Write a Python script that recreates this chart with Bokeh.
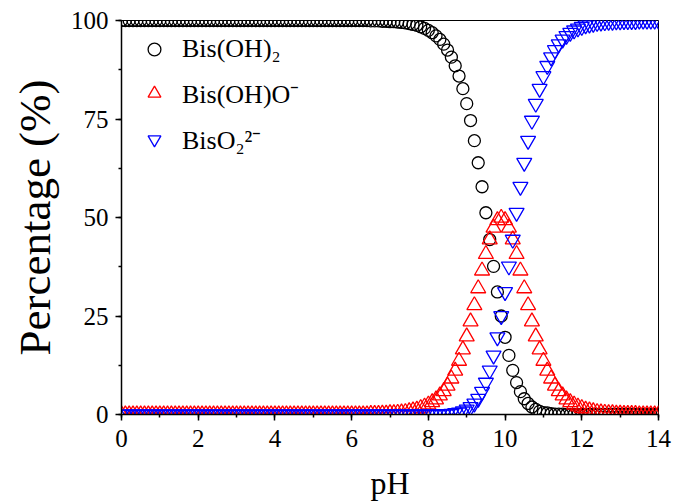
from bokeh.plotting import figure
from bokeh.models import Range1d, SingleIntervalTicker, Legend, LegendItem
from bokeh.embed import file_html
from bokeh.resources import INLINE

# pH grid (x values)
ph = [
    0.0, 0.1, 0.2, 0.3, 0.4, 0.5, 0.6, 0.7, 0.8, 0.9,
    1.0, 1.1, 1.2, 1.3, 1.4, 1.5, 1.6, 1.7, 1.8, 1.9,
    2.0, 2.1, 2.2, 2.3, 2.4, 2.5, 2.6, 2.7, 2.8, 2.9,
    3.0, 3.1, 3.2, 3.3, 3.4, 3.5, 3.6, 3.7, 3.8, 3.9,
    4.0, 4.1, 4.2, 4.3, 4.4, 4.5, 4.6, 4.7, 4.8, 4.9,
    5.0, 5.1, 5.2, 5.3, 5.4, 5.5, 5.6, 5.7, 5.8, 5.9,
    6.0, 6.1, 6.2, 6.3, 6.4, 6.5, 6.6, 6.7, 6.8, 6.9,
    7.0, 7.1, 7.2, 7.3, 7.4, 7.5, 7.6, 7.7, 7.8, 7.9,
    8.0, 8.1, 8.2, 8.3, 8.4, 8.5, 8.6, 8.7, 8.8, 8.9,
    9.0, 9.1, 9.2, 9.3, 9.4, 9.5, 9.6, 9.7, 9.8, 9.9,
    10.0, 10.1, 10.2, 10.3, 10.4, 10.5, 10.6, 10.7, 10.8, 10.9,
    11.0, 11.1, 11.2, 11.3, 11.4, 11.5, 11.6, 11.7, 11.8, 11.9,
    12.0, 12.1, 12.2, 12.3, 12.4, 12.5, 12.6, 12.7, 12.8, 12.9,
    13.0, 13.1, 13.2, 13.3, 13.4, 13.5, 13.6, 13.7, 13.8, 13.9,
    14.0,
]

# Bis(OH)2 percentage
bis_oh2 = [
    100.0, 100.0, 100.0, 100.0, 100.0, 100.0, 100.0, 100.0, 100.0, 100.0,
    100.0, 100.0, 100.0, 100.0, 100.0, 100.0, 100.0, 100.0, 100.0, 100.0,
    100.0, 100.0, 100.0, 100.0, 100.0, 100.0, 100.0, 100.0, 100.0, 100.0,
    100.0, 100.0, 100.0, 100.0, 100.0, 100.0, 100.0, 100.0, 100.0, 100.0,
    100.0, 100.0, 100.0, 100.0, 100.0, 100.0, 100.0, 100.0, 100.0, 100.0,
    100.0, 100.0, 100.0, 100.0, 100.0, 100.0, 100.0, 100.0, 100.0, 100.0,
    100.0, 100.0, 100.0, 100.0, 100.0, 99.9, 99.9, 99.9, 99.8, 99.8,
    99.7, 99.7, 99.6, 99.5, 99.4, 99.2, 99.0, 98.8, 98.4, 98.0,
    97.5, 96.9, 96.1, 95.2, 94.0, 92.5, 90.7, 88.5, 85.9, 82.7,
    78.9, 74.6, 69.5, 63.9, 57.8, 51.2, 44.4, 37.6, 31.1, 25.0,
    19.6, 15.0, 11.2, 8.1, 5.8, 4.0, 2.8, 1.9, 1.3, 0.8,
    0.5, 0.4, 0.2, 0.1, 0.1, 0.1, 0.0, 0.0, 0.0, 0.0,
    0.0, 0.0, 0.0, 0.0, 0.0, 0.0, 0.0, 0.0, 0.0, 0.0,
    0.0, 0.0, 0.0, 0.0, 0.0, 0.0, 0.0, 0.0, 0.0, 0.0,
    0.0,
]

# Bis(OH)O- percentage
bis_oho = [
    0.0, 0.0, 0.0, 0.0, 0.0, 0.0, 0.0, 0.0, 0.0, 0.0,
    0.0, 0.0, 0.0, 0.0, 0.0, 0.0, 0.0, 0.0, 0.0, 0.0,
    0.0, 0.0, 0.0, 0.0, 0.0, 0.0, 0.0, 0.0, 0.0, 0.0,
    0.0, 0.0, 0.0, 0.0, 0.0, 0.0, 0.0, 0.0, 0.0, 0.0,
    0.0, 0.0, 0.0, 0.0, 0.0, 0.0, 0.0, 0.0, 0.0, 0.0,
    0.0, 0.0, 0.0, 0.0, 0.0, 0.0, 0.0, 0.0, 0.0, 0.0,
    0.0, 0.0, 0.0, 0.0, 0.0, 0.1, 0.1, 0.1, 0.2, 0.2,
    0.3, 0.3, 0.4, 0.5, 0.6, 0.8, 1.0, 1.2, 1.6, 2.0,
    2.5, 3.1, 3.8, 4.8, 5.9, 7.3, 9.1, 11.1, 13.6, 16.5,
    19.8, 23.6, 27.7, 32.0, 36.5, 40.7, 44.4, 47.4, 49.3, 49.9,
    49.3, 47.4, 44.4, 40.7, 36.5, 32.0, 27.7, 23.6, 19.8, 16.5,
    13.6, 11.1, 9.1, 7.3, 5.9, 4.8, 3.8, 3.1, 2.5, 2.0,
    1.6, 1.2, 1.0, 0.8, 0.6, 0.5, 0.4, 0.3, 0.3, 0.2,
    0.2, 0.1, 0.1, 0.1, 0.1, 0.0, 0.0, 0.0, 0.0, 0.0,
    0.0,
]

# BisO2 2- percentage
bis_o2 = [
    0.0, 0.0, 0.0, 0.0, 0.0, 0.0, 0.0, 0.0, 0.0, 0.0,
    0.0, 0.0, 0.0, 0.0, 0.0, 0.0, 0.0, 0.0, 0.0, 0.0,
    0.0, 0.0, 0.0, 0.0, 0.0, 0.0, 0.0, 0.0, 0.0, 0.0,
    0.0, 0.0, 0.0, 0.0, 0.0, 0.0, 0.0, 0.0, 0.0, 0.0,
    0.0, 0.0, 0.0, 0.0, 0.0, 0.0, 0.0, 0.0, 0.0, 0.0,
    0.0, 0.0, 0.0, 0.0, 0.0, 0.0, 0.0, 0.0, 0.0, 0.0,
    0.0, 0.0, 0.0, 0.0, 0.0, 0.0, 0.0, 0.0, 0.0, 0.0,
    0.0, 0.0, 0.0, 0.0, 0.0, 0.0, 0.0, 0.0, 0.0, 0.0,
    0.0, 0.0, 0.0, 0.1, 0.1, 0.1, 0.2, 0.4, 0.5, 0.8,
    1.3, 1.9, 2.8, 4.0, 5.8, 8.1, 11.2, 15.0, 19.6, 25.0,
    31.1, 37.6, 44.4, 51.2, 57.8, 63.9, 69.5, 74.6, 78.9, 82.7,
    85.9, 88.5, 90.7, 92.5, 94.0, 95.2, 96.1, 96.9, 97.5, 98.0,
    98.4, 98.8, 99.0, 99.2, 99.4, 99.5, 99.6, 99.7, 99.7, 99.8,
    99.8, 99.9, 99.9, 99.9, 99.9, 100.0, 100.0, 100.0, 100.0, 100.0,
    100.0,
]

series_labels = ["Bis(OH)\u2082", "Bis(OH)O\u207b", "BisO\u2082\u00b2\u207b"]

FONT = "Liberation Serif"

p = figure(
    width=673, height=504,
    output_backend="svg", toolbar_location=None,
    x_range=Range1d(0, 14), y_range=Range1d(0, 100),
    min_border_left=121, min_border_right=15,
    min_border_top=20, min_border_bottom=90,
)
p.xgrid.visible = False
p.ygrid.visible = False
p.outline_line_color = "black"
p.outline_line_width = 1
p.background_fill_color = "white"
p.border_fill_color = "white"

p.xaxis.ticker = SingleIntervalTicker(interval=2, num_minor_ticks=2)
p.yaxis.ticker = SingleIntervalTicker(interval=25, num_minor_ticks=2)
p.xaxis.axis_label = "pH"
p.yaxis.axis_label = "Percentage (%)"

for ax in (p.xaxis[0], p.yaxis[0]):
    ax.axis_line_width = 1.5
    ax.axis_line_color = "black"
    ax.major_tick_line_width = 1.5
    ax.minor_tick_line_width = 1.5
    ax.major_tick_line_color = "black"
    ax.minor_tick_line_color = "black"
    ax.major_tick_in = 0
    ax.major_tick_out = 6
    ax.minor_tick_in = 0
    ax.minor_tick_out = 3
    ax.major_label_text_font = FONT
    ax.major_label_text_font_size = "25px"
    ax.major_label_text_color = "black"
    ax.axis_label_text_font = FONT
    ax.axis_label_text_font_style = "normal"
    ax.axis_label_text_color = "black"

p.xaxis.axis_label_text_font_size = "32px"
p.yaxis.axis_label_text_font_size = "45px"
p.xaxis.axis_label_text_line_height = 0.8
p.xaxis.major_label_standoff = 9
p.yaxis.major_label_standoff = 7
p.xaxis.axis_label_standoff = 15
p.yaxis.axis_label_standoff = 8

r1 = p.scatter(ph, bis_oh2, marker="circle", size=12, fill_color=None,
               line_color="black", line_width=1.3)
r2 = p.scatter(ph, bis_oho, marker="triangle", size=15, fill_color=None,
               line_color="red", line_width=1.3)
r3 = p.scatter(ph, bis_o2, marker="inverted_triangle", size=15, fill_color=None,
               line_color="blue", line_width=1.3)

legend = Legend(
    items=[
        LegendItem(label=series_labels[0], renderers=[r1]),
        LegendItem(label=series_labels[1], renderers=[r2]),
        LegendItem(label=series_labels[2], renderers=[r3]),
    ],
    location="top_left",
)
legend.border_line_color = None
legend.background_fill_alpha = 0
legend.label_text_font = FONT
legend.label_text_font_size = "26px"
legend.label_text_color = "black"
legend.margin = 13
legend.padding = 7
legend.glyph_width = 40
legend.glyph_height = 32
legend.label_height = 32
legend.spacing = 10
legend.label_standoff = 8
p.add_layout(legend)

open("out.html", "w").write(file_html(p, INLINE))
